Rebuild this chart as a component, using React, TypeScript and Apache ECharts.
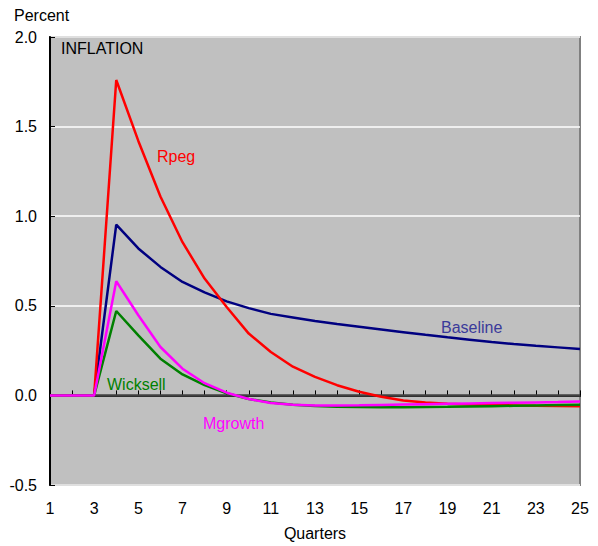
import React, { useEffect, useRef } from "react";
import * as echarts from "echarts";

const quarters = [1, 2, 3, 4, 5, 6, 7, 8, 9, 10, 11, 12, 13, 14, 15, 16, 17, 18, 19, 20, 21, 22, 23, 24, 25];
const baseline = [0, 0, 0, 0.953, 0.82, 0.717, 0.633, 0.575, 0.525, 0.487, 0.455, 0.435, 0.415, 0.398, 0.383, 0.368, 0.353, 0.338, 0.324, 0.311, 0.298, 0.287, 0.277, 0.268, 0.259];
const rpeg = [0, 0, 0, 1.76, 1.42, 1.11, 0.855, 0.652, 0.493, 0.345, 0.242, 0.16, 0.103, 0.057, 0.02, -0.008, -0.028, -0.04, -0.046, -0.051, -0.054, -0.056, -0.058, -0.059, -0.06];
const mgrowth = [0, 0, 0, 0.637, 0.447, 0.27, 0.149, 0.068, 0.015, -0.02, -0.042, -0.052, -0.056, -0.056, -0.055, -0.053, -0.051, -0.049, -0.047, -0.045, -0.043, -0.041, -0.039, -0.037, -0.034];
const wicksell = [0, 0, 0, 0.471, 0.335, 0.205, 0.117, 0.057, 0.012, -0.02, -0.04, -0.052, -0.059, -0.063, -0.065, -0.066, -0.066, -0.065, -0.064, -0.062, -0.06, -0.058, -0.056, -0.054, -0.052];
const yTicks = [-0.5, 0, 0.5, 1.0, 1.5, 2.0];

const FONT = "Liberation Sans, Arial, sans-serif";
const FS = 16;

export default function App() {
  const ref = useRef<HTMLDivElement>(null);
  useEffect(() => {
    document.body.style.margin = "0";
    const chart = echarts.init(ref.current!, null, { renderer: "svg" });
    const pair = (arr: number[]) => arr.map((v, i) => [quarters[i], v]);
    chart.setOption({
      animation: false,
      backgroundColor: "#ffffff",
      textStyle: { fontFamily: FONT },
      grid: {
        left: 50,
        top: 37,
        width: 530,
        height: 448,
        show: true,
        backgroundColor: "#c0c0c0",
        borderColor: "#808080",
        borderWidth: 2,
      },
      xAxis: {
        type: "value",
        min: 1,
        max: 25,
        interval: 1,
        name: "Quarters",
        nameLocation: "middle",
        nameGap: 40,
        nameTextStyle: { fontSize: FS, color: "#000", fontFamily: FONT },
        axisLine: { show: true, lineStyle: { color: "#000", width: 2 } },
        axisTick: { show: true, inside: true, length: 5, lineStyle: { color: "#000" } },
        axisLabel: {
          fontSize: FS,
          color: "#000",
          margin: 15,
          fontFamily: FONT,
          formatter: (v: number) => (v % 2 === 1 ? String(v) : ""),
        },
        splitLine: { show: false },
      },
      yAxis: {
        type: "value",
        min: yTicks[0],
        max: yTicks[yTicks.length - 1],
        interval: 0.5,
        axisLine: { show: true, lineStyle: { color: "#000", width: 2 } },
        axisTick: { show: true, inside: true, length: 5, lineStyle: { color: "#000" } },
        axisLabel: {
          fontSize: FS,
          color: "#000",
          margin: 13,
          fontFamily: FONT,
          formatter: (v: number) => v.toFixed(1),
        },
        splitLine: { show: true, lineStyle: { color: "#ffffff", width: 1.5 } },
      },
      series: [
        {
          name: "Baseline",
          type: "line",
          data: pair(baseline),
          showSymbol: false,
          lineStyle: { color: "#000080", width: 2.5 },
          itemStyle: { color: "#000080" },
          z: 2,
        },
        {
          name: "Rpeg",
          type: "line",
          data: pair(rpeg),
          showSymbol: false,
          lineStyle: { color: "#ff0000", width: 2.5 },
          itemStyle: { color: "#ff0000" },
          z: 3,
        },
        {
          name: "Wicksell",
          type: "line",
          data: pair(wicksell),
          showSymbol: false,
          lineStyle: { color: "#008000", width: 2.5 },
          itemStyle: { color: "#008000" },
          z: 4,
        },
        {
          name: "Mgrowth",
          type: "line",
          data: pair(mgrowth),
          showSymbol: false,
          lineStyle: { color: "#ff00ff", width: 2.5 },
          itemStyle: { color: "#ff00ff" },
          z: 5,
          markLine: {
            silent: true,
            symbol: "none",
            label: { show: false },
            lineStyle: { color: "#404040", width: 2.5, type: "solid" },
            data: [{ yAxis: 0 }],
            z: 1,
          },
        },
      ],
      graphic: [
        { type: "text", left: 14, top: 7, style: { text: "Percent", fontSize: FS, fill: "#000", fontFamily: FONT } },
        { type: "text", left: 61, top: 40, style: { text: "INFLATION", fontSize: FS, fill: "#000", fontFamily: FONT } },
        { type: "text", left: 157, top: 148, style: { text: "Rpeg", fontSize: FS, fill: "#ff0000", fontFamily: FONT } },
        { type: "text", left: 441, top: 319, style: { text: "Baseline", fontSize: FS, fill: "#3a3a9a", fontFamily: FONT } },
        { type: "text", left: 107, top: 376, style: { text: "Wicksell", fontSize: FS, fill: "#008000", fontFamily: FONT } },
        { type: "text", left: 203, top: 415, style: { text: "Mgrowth", fontSize: FS, fill: "#ff00ff", fontFamily: FONT } },
      ],
    });
    return () => chart.dispose();
  }, []);
  return <div ref={ref} style={{ width: 598, height: 546 }} />;
}
